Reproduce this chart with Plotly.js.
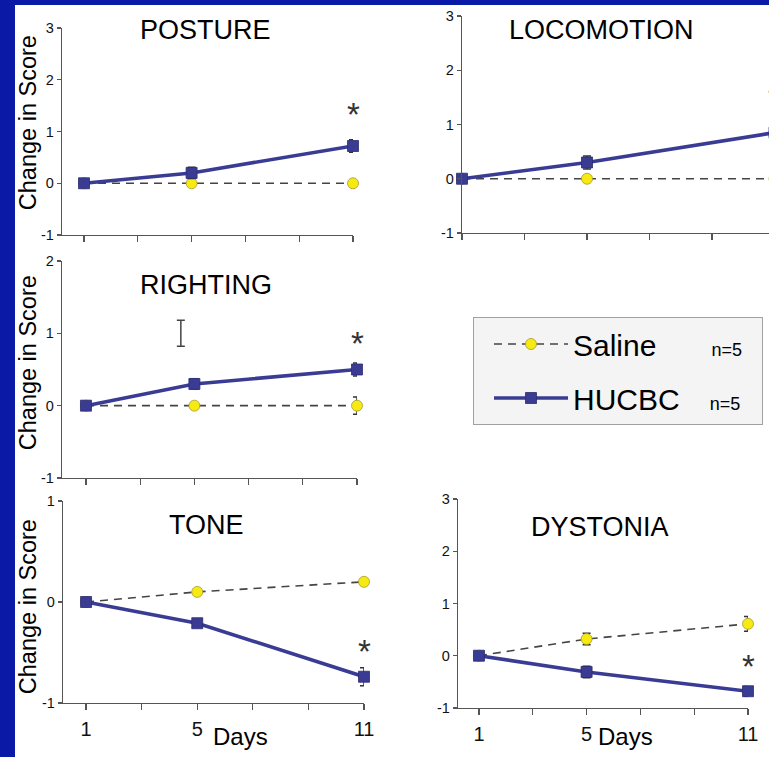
<!DOCTYPE html>
<html><head><meta charset="utf-8">
<script src="https://cdn.plot.ly/plotly-3.0.1.min.js"></script>
<style>
html,body{margin:0;padding:0;background:#0a1aa6;overflow:hidden;width:769px;height:757px;}
#chart{position:absolute;left:15px;top:5px;width:800px;height:752px;background:#fff;}
</style></head><body><div id="chart"></div>
<script>
// ---- data ----
const days = [1, 5, 11];
const tickDays = [1, 3, 5, 7, 9, 11];
const tickText = ['1', '', '5', '', '', '11'];

const postureSaline = [0, 0, 0];
const postureSalineErr = [0, 0, 0];
const postureHucbc = [0, 0.2, 0.72];
const postureHucbcErr = [0, 0.11, 0.12];

const locoSaline = [0, 0, 0];
const locoSalineErr = [0, 0, 0];
const locoHucbc = [0, 0.3, 0.85];
const locoHucbcErr = [0, 0.12, 0.1];

const rightSaline = [0, 0, 0];
const rightSalineErr = [0, 0, 0.12];
const rightHucbc = [0, 0.3, 0.5];
const rightHucbcErr = [0, 0.07, 0.09];
const rightStrayDay = [4.5];
const rightStrayVal = [1.0];
const rightStrayErr = [0.18];

const toneSaline = [0, 0.1, 0.2];
const toneSalineErr = [0, 0, 0];
const toneHucbc = [0, -0.21, -0.74];
const toneHucbcErr = [0, 0.02, 0.09];

const dystSaline = [0, 0.32, 0.61];
const dystSalineErr = [0, 0.11, 0.14];
const dystHucbc = [0, -0.31, -0.68];
const dystHucbcErr = [0, 0.11, 0.09];

const panelTitles = ['POSTURE', 'LOCOMOTION', 'RIGHTING', 'TONE', 'DYSTONIA'];
const seriesNames = ['Saline', 'HUCBC'];
const groupN = ['n=5', 'n=5'];
const yTitle = 'Change in Score';
const xTitle = 'Days';
const yTicks3 = [-1, 0, 1, 2, 3];
const yTicks2 = [-1, 0, 1, 2];
const yTicks1 = [-1, 0, 1];

// ---- styling / layout ----
const BLUE = '#3a3c94';
const YELLOW = '#f7ea10';
const AXC = '#555555';
const FONT = 'Arial, "Liberation Sans", sans-serif';

const panels = [
  {sal: postureSaline, salE: postureSalineErr, huc: postureHucbc, hucE: postureHucbcErr,
   xd: [0.05875, 0.4225], yd: [0.6941, 0.9694], xr: [0.182, 11], yr: [-1, 3], yt: yTicks3, bottom: false},
  {sal: locoSaline, salE: locoSalineErr, huc: locoHucbc, hucE: locoHucbcErr,
   xd: [0.55875, 0.9494], yd: [0.6968, 0.9854], xr: [1, 11], yr: [-1, 3], yt: yTicks3, bottom: false},
  {sal: rightSaline, salE: rightSalineErr, huc: rightHucbc, hucE: rightHucbcErr,
   xd: [0.05875, 0.4275], yd: [0.3710, 0.6596], xr: [0.115, 11], yr: [-1, 2], yt: yTicks2, bottom: false},
  {sal: toneSaline, salE: toneSalineErr, huc: toneHucbc, hucE: toneHucbcErr,
   xd: [0.06, 0.43625], yd: [0.0718, 0.3404], xr: [0.17, 11], yr: [-1, 1], yt: yTicks1, bottom: true},
  {sal: dystSaline, salE: dystSalineErr, huc: dystHucbc, hucE: dystHucbcErr,
   xd: [0.55375, 0.91625], yd: [0.0652, 0.3431], xr: [0.22, 11], yr: [-1, 3], yt: yTicks3, bottom: true}
];

const traces = [];
const layout = {
  width: 800, height: 752,
  margin: {l: 0, r: 0, t: 0, b: 0},
  paper_bgcolor: '#ffffff', plot_bgcolor: 'rgba(0,0,0,0)',
  font: {family: FONT, color: '#111'},
  showlegend: true,
  legend: {
    x: 0.5725, y: 0.5851, xanchor: 'left', yanchor: 'top',
    bgcolor: '#f4f4f4', bordercolor: '#a0a0a0', borderwidth: 1,
    font: {family: FONT, size: 30, color: '#000'},
    itemwidth: 74, tracegroupgap: 12, traceorder: 'grouped', indentation: 15
  },
  annotations: []
};

const nb = n => '&nbsp;'.repeat(n);
const legendNames = [
  seriesNames[0] + '<span style="font-size:18px">' + nb(11) + groupN[0] + nb(3) + '</span>',
  seriesNames[1] + '<span style="font-size:18px">' + nb(6) + groupN[1] + nb(3) + '</span>'
];

panels.forEach((p, i) => {
  const sfx = i === 0 ? '' : String(i + 1);
  const xa = 'x' + sfx, ya = 'y' + sfx;
  traces.push({
    x: days, y: p.sal, xaxis: xa, yaxis: ya, type: 'scatter', mode: 'lines+markers',
    name: legendNames[0], legendgroup: 'sal', showlegend: i === 0, cliponaxis: false,
    line: {color: '#444', width: 1.6, dash: '8px,6px'},
    marker: {symbol: 'circle', size: 11, color: YELLOW, line: {color: '#a49a30', width: 0.8}},
    error_y: {type: 'data', array: p.salE, visible: true, color: '#333', thickness: 1.5, width: 4}
  });
  traces.push({
    x: days, y: p.huc, xaxis: xa, yaxis: ya, type: 'scatter', mode: 'lines+markers',
    name: legendNames[1], legendgroup: 'huc', showlegend: i === 0, cliponaxis: false,
    line: {color: BLUE, width: 3.6},
    marker: {symbol: 'square', size: 11, color: BLUE, line: {color: '#2a2c70', width: 0.8}},
    error_y: {type: 'data', array: p.hucE, visible: true, color: '#333', thickness: 1.5, width: 4}
  });
  layout['xaxis' + sfx] = {
    domain: p.xd, range: p.xr, anchor: ya, showline: true, linecolor: AXC, linewidth: 1.3,
    ticks: 'outside', ticklen: 6, tickwidth: 1.3, tickcolor: AXC,
    tickmode: 'array', tickvals: tickDays, ticktext: tickText,
    showticklabels: p.bottom, tickfont: {size: 20, color: '#111', family: FONT},
    ticklabelstandoff: 2,
    showgrid: false, zeroline: false, fixedrange: true
  };
  layout['yaxis' + sfx] = {
    domain: p.yd, range: p.yr, anchor: xa, showline: true, linecolor: AXC, linewidth: 1.3,
    ticks: 'outside', ticklen: 4, tickwidth: 1.3, tickcolor: AXC,
    tickmode: 'array', tickvals: p.yt, ticktext: p.yt.map(v => String(v)),
    tickfont: {size: 14.5, color: '#111', family: FONT},
    showgrid: false, zeroline: false, fixedrange: true
  };
});

// stray error bar in RIGHTING panel
traces.push({
  x: rightStrayDay, y: rightStrayVal, xaxis: 'x3', yaxis: 'y3', type: 'scatter', mode: 'markers',
  showlegend: false, hoverinfo: 'skip', cliponaxis: false,
  marker: {size: 1, color: 'rgba(0,0,0,0)'},
  error_y: {type: 'data', array: rightStrayErr, visible: true, color: '#444', thickness: 1.5, width: 4}
});

// panel titles
const titlePos = [[0.2375, 0.9668], [0.7325, 0.9668], [0.23875, 0.6277], [0.23875, 0.3085], [0.73125, 0.3059]];
panelTitles.forEach((t, i) => {
  layout.annotations.push({text: t, xref: 'paper', yref: 'paper', x: titlePos[i][0], y: titlePos[i][1],
    xanchor: 'center', yanchor: 'middle', showarrow: false, font: {size: 27, color: '#000', family: FONT}});
});
// y titles
[0.8431, 0.5239, 0.1995].forEach(yy => {
  layout.annotations.push({text: yTitle, xref: 'paper', yref: 'paper', x: 0.0165, y: yy, textangle: -90,
    xanchor: 'center', yanchor: 'middle', showarrow: false, font: {size: 23.5, color: '#000', family: FONT}});
});
// x titles
[0.2825, 0.7625].forEach(xx => {
  layout.annotations.push({text: xTitle, xref: 'paper', yref: 'paper', x: xx, y: 0.0266,
    xanchor: 'center', yanchor: 'middle', showarrow: false, font: {size: 24, color: '#000', family: FONT}});
});
// significance asterisks
[['x', 'y', 1.46], ['x2', 'y2', 1.6], ['x3', 'y3', 0.96], ['x4', 'y4', -0.42], ['x5', 'y5', -0.08]].forEach(a => {
  layout.annotations.push({text: '*', xref: a[0], yref: a[1], x: 11, y: a[2], yshift: -7,
    xanchor: 'center', yanchor: 'middle', showarrow: false, font: {size: 33, color: '#333', family: FONT}});
});

Plotly.newPlot('chart', traces, layout, {staticPlot: true, displayModeBar: false});
</script></body></html>
